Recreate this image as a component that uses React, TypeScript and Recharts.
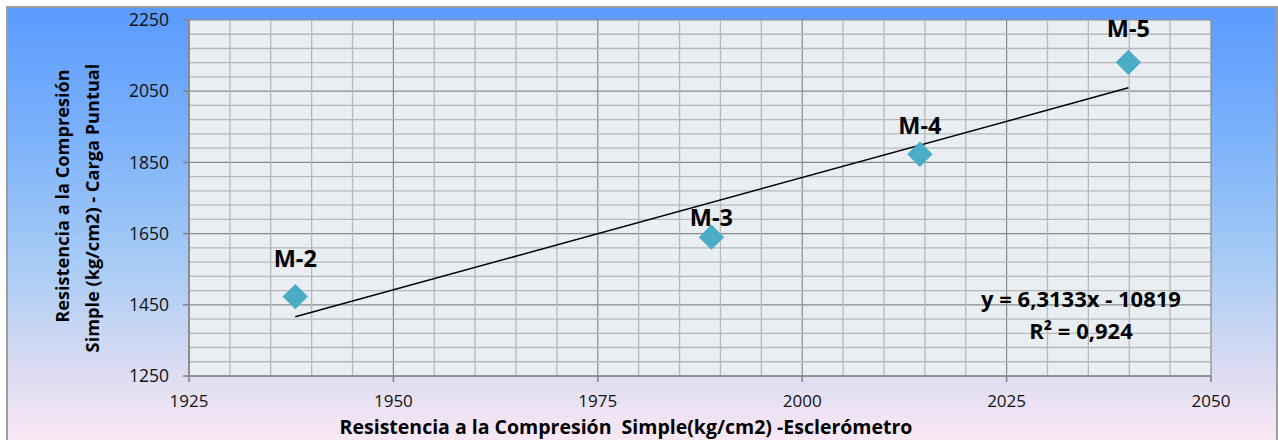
import React from 'react';
import {
  ScatterChart,
  Scatter,
  XAxis,
  YAxis,
  CartesianGrid,
  ReferenceLine,
  Label,
} from 'recharts';

// sample readings (x: esclerómetro, y: carga puntual)
const sampleNames = ['M-2', 'M-3', 'M-4', 'M-5'];
const xValues = [1938, 1988.9, 2014.4, 2039.9];
const yValues = [1473, 1640, 1873, 2131];

// linear fit shown on the chart
const slope = 6.3133;
const intercept = -10819;
const r2 = '0,924';

const xTicks = [1925, 1950, 1975, 2000, 2025, 2050];
const yTicks = [1250, 1450, 1650, 1850, 2050, 2250];
const xMinor = [
  1930, 1935, 1940, 1945, 1955, 1960, 1965, 1970, 1980, 1985,
  1990, 1995, 2005, 2010, 2015, 2020, 2030, 2035, 2040, 2045,
];
const yMinor = [
  1290, 1330, 1370, 1410, 1490, 1530, 1570, 1610, 1690, 1730,
  1770, 1810, 1890, 1930, 1970, 2010, 2090, 2130, 2170, 2210,
];

// how far each data label sits above its marker (px)
const labelLift: Record<string, number> = { 'M-2': 39, 'M-3': 20, 'M-4': 29, 'M-5': 34 };

const FONT = '"Open Sans", "Noto Sans", sans-serif';
const MARKER = '#4BACC6';

const points = sampleNames.map((name, i) => ({ name, x: xValues[i], y: yValues[i] }));
const xMin = Math.min(...xValues);
const xMax = Math.max(...xValues);
const trend = [
  { x: xMin, y: slope * xMin + intercept },
  { x: xMax, y: slope * xMax + intercept },
];

const DiamondWithLabel = (props: any) => {
  const { cx, cy, payload } = props;
  const r = 12.7;
  const lift = labelLift[payload.name] ?? 30;
  return (
    <g>
      <polygon
        points={`${cx},${cy - r} ${cx + r},${cy} ${cx},${cy + r} ${cx - r},${cy}`}
        fill={MARKER}
      />
      <text
        x={cx}
        y={cy - lift}
        textAnchor="middle"
        dominantBaseline="central"
        fontFamily={FONT}
        fontWeight={700}
        fontSize={23.5}
        fill="#000"
      >
        {payload.name}
      </text>
    </g>
  );
};

const YTitle = () => (
  <g fontFamily={FONT} fontWeight={700} fontSize={18.2} fill="#000">
    <text x={54} y={188} textAnchor="middle" dominantBaseline="central" transform="rotate(-90, 54, 188)">
      Resistencia a la Compresión
    </text>
    <text x={84} y={200} textAnchor="middle" dominantBaseline="central" transform="rotate(-90, 84, 200)">
      Simple (kg/cm2) - Carga Puntual
    </text>
  </g>
);

const XTitle = () => (
  <text
    x={618}
    y={418}
    textAnchor="middle"
    dominantBaseline="central"
    fontFamily={FONT}
    fontWeight={700}
    fontSize={19.5}
    fill="#000"
    style={{ whiteSpace: 'pre' }}
  >
    {'Resistencia a la Compresión  Simple(kg/cm2) -Esclerómetro'}
  </text>
);

export default function App() {
  return (
    <div
      style={{
        position: 'absolute',
        left: 6,
        top: 6,
        width: 1272,
        height: 440,
        boxSizing: 'border-box',
        border: '2px solid #9c9c9c',
        background:
          'linear-gradient(to bottom, #5A9BFF 0%, #7DB2FB 30%, #A6CBF5 58%, #D9DBF2 82%, #FCE8F4 100%)',
        fontFamily: FONT,
      }}
    >
      <ScatterChart
        width={1268}
        height={432}
        margin={{ top: 12, right: 65, bottom: 0, left: 0 }}
      >
        <CartesianGrid fill="#E8EEF2" stroke="#8A8A8A" strokeWidth={1.2} />
        {xMinor.map((v) => (
          <ReferenceLine key={`vx${v}`} x={v} stroke="#B8B8B8" strokeWidth={1.3} />
        ))}
        {yMinor.map((v) => (
          <ReferenceLine key={`hy${v}`} y={v} stroke="#B8B8B8" strokeWidth={1.3} />
        ))}
        <XAxis
          type="number"
          dataKey="x"
          domain={[1925, 2050]}
          ticks={xTicks}
          height={64}
          tickSize={6}
          tickMargin={13}
          stroke="#868686"
          strokeWidth={1.6}
          tick={{ fill: '#111', fontSize: 17, fontFamily: FONT }}
        >
          <Label content={<XTitle />} />
        </XAxis>
        <YAxis
          type="number"
          dataKey="y"
          domain={[1250, 2250]}
          ticks={yTicks}
          width={181}
          tickSize={6}
          tickMargin={14}
          stroke="#868686"
          strokeWidth={1.6}
          tick={{ fill: '#111', fontSize: 17.5, fontFamily: FONT }}
        >
          <Label content={<YTitle />} />
        </YAxis>
        <Scatter
          data={trend}
          line={{ stroke: '#000', strokeWidth: 1.5 }}
          shape={() => <g />}
          isAnimationActive={false}
          legendType="none"
        />
        <Scatter
          data={points}
          shape={<DiamondWithLabel />}
          isAnimationActive={false}
        />
      </ScatterChart>
      <div
        style={{
          position: 'absolute',
          left: 923,
          top: 274,
          width: 300,
          textAlign: 'center',
          fontWeight: 700,
          fontSize: 22,
          lineHeight: '32px',
          color: '#000',
        }}
      >
        <div>y = {slope.toString().replace('.', ',')}x - {Math.abs(intercept)}</div>
        <div>R² = {r2}</div>
      </div>
    </div>
  );
}
